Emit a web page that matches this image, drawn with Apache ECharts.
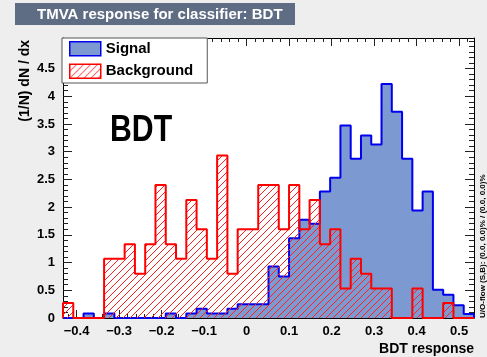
<!DOCTYPE html>
<html><head><meta charset="utf-8">
<script src="https://cdn.jsdelivr.net/npm/echarts@6/dist/echarts.min.js"></script>
<style>html,body{margin:0;padding:0;background:#eeeeee}#c{width:487px;height:357px}</style>
</head><body><div id="c"></div>
<script>
// ---- data ----
const xMin = -0.432, xMax = 0.535;
const yMin = 0, yMax = 5.05;
const seriesNames = ['Signal', 'Background'];
const signal = [0, 0, 0.083, 0, 0.083, 0, 0, 0, 0, 0,
  0.083, 0, 0.083, 0.167, 0.083, 0.083, 0.167, 0.25, 0.25, 0.25,
  0.93, 0.75, 1.44, 1.77, 1.70, 2.28, 2.53, 3.47, 2.87, 3.29,
  3.13, 4.22, 3.72, 2.87, 1.94, 2.28, 0.51, 0.42, 0.23, 0.07];
const background = [0.27, 0, 0, 0, 1.07, 1.07, 1.33, 0.8, 1.33, 2.4,
  1.33, 1.07, 2.13, 1.6, 1.07, 2.93, 0.8, 1.6, 1.6, 2.4,
  2.4, 1.6, 2.4, 1.6, 2.13, 1.33, 1.6, 0.53, 1.07, 0.8,
  0.53, 0.53, 0, 0, 0.53, 0, 0, 0.27, 0, 0];
const xTickLabels = [-0.4, -0.3, -0.2, -0.1, 0, 0.1, 0.2, 0.3, 0.4, 0.5];
const yTickLabels = [0, 0.5, 1, 1.5, 2, 2.5, 3, 3.5, 4, 4.5];
const titleText = 'TMVA response for classifier: BDT';
const xName = 'BDT response';
const yName = '(1/N) dN / dx';
const overflowText = 'U/O-flow (S,B): (0.0, 0.0)% / (0.0, 0.0)%';
const methodText = 'BDT';

// ---- helpers ----
const nBins = signal.length;
const bw = (xMax - xMin) / nBins;
function stepData(vals) {
  const d = [[xMin, 0]];
  vals.forEach((v, i) => d.push([xMin + i * bw, v]));
  d.push([xMax, 0]);
  return d;
}
const xMinor = [];
for (let k = -21; k <= 26; k++) xMinor.push(Math.round(k * 2) / 100);
const yMinor = [];
for (let k = 0; k <= 50; k++) yMinor.push(k / 10);

function hatchCanvas() {
  const c = document.createElement('canvas');
  c.width = 7; c.height = 7;
  const g = c.getContext('2d');
  g.strokeStyle = '#ff2020';
  g.lineWidth = 1;
  g.beginPath();
  g.moveTo(-1, 8); g.lineTo(8, -1);
  g.moveTo(-1, 1); g.lineTo(1, -1);
  g.moveTo(6, 8); g.lineTo(8, 6);
  g.stroke();
  return c;
}
const hatch = hatchCanvas();

const FONT = '"Liberation Sans", Arial, Helvetica, sans-serif';
const fmt = v => {
  const s = String(+(+v).toFixed(1));
  return s === '-0' ? '0' : s.replace('-', '\u2212');
};

function xAx(pos, ticks, len, labels, line) {
  return {
    type: 'value', position: pos, min: xMin, max: xMax,
    axisLine: { show: line, onZero: false, lineStyle: { color: '#000', width: 1 } },
    axisTick: { show: true, inside: true, length: len, customValues: ticks, lineStyle: { color: '#222', width: 1 } },
    axisLabel: labels ? { show: true, customValues: xTickLabels, formatter: fmt, margin: 7,
      color: '#000', fontWeight: 'bold', fontSize: 13, fontFamily: FONT } : { show: false },
    splitLine: { show: false }
  };
}
function yAx(pos, ticks, len, labels, line) {
  return {
    type: 'value', position: pos, min: yMin, max: yMax,
    axisLine: { show: line, onZero: false, lineStyle: { color: '#000', width: 1 } },
    axisTick: { show: true, inside: true, length: len, customValues: ticks, lineStyle: { color: '#222', width: 1 } },
    axisLabel: labels ? { show: true, customValues: yTickLabels, formatter: fmt, margin: 8,
      color: '#000', fontWeight: 'bold', fontSize: 13, fontFamily: FONT } : { show: false },
    splitLine: { show: false }
  };
}

const chart = echarts.init(document.getElementById('c'), null, { renderer: 'canvas' });
chart.setOption({
  animation: false,
  backgroundColor: '#eeeeee',
  grid: { left: 63, right: 13, top: 38, bottom: 39, show: true, backgroundColor: '#ffffff', borderWidth: 0 },
  xAxis: [
    xAx('bottom', xTickLabels, 8, true, true),
    xAx('bottom', xMinor, 4, false, false),
    xAx('top', xTickLabels, 8, false, true),
    xAx('top', xMinor, 4, false, false)
  ],
  yAxis: [
    yAx('left', yTickLabels, 9, true, true),
    yAx('left', yMinor, 5, false, false),
    yAx('right', yTickLabels, 9, false, true),
    yAx('right', yMinor, 5, false, false)
  ],
  legend: {
    left: 62, top: 38, orient: 'vertical', selectedMode: false,
    backgroundColor: '#ffffff', borderColor: '#555', borderWidth: 1,
    padding: [3, 14, 4, 7], itemGap: 7, itemWidth: 31, itemHeight: 14,
    textStyle: { fontFamily: FONT, fontWeight: 'bold', fontSize: 15, color: '#000' },
    data: [
      { name: seriesNames[0], icon: 'rect', itemStyle: { color: '#7d99d1', borderColor: '#0000ee', borderWidth: 1.5 } },
      { name: seriesNames[1], icon: 'rect', itemStyle: { color: { image: hatch, repeat: 'repeat' }, borderColor: '#ff0000', borderWidth: 1.5 } }
    ]
  },
  series: [
    {
      type: 'line', name: seriesNames[0], data: stepData(signal), step: 'end', symbol: 'none',
      xAxisIndex: 0, yAxisIndex: 0, z: 2,
      lineStyle: { color: '#0000ee', width: 2 }, itemStyle: { color: '#0000ee' },
      areaStyle: { color: '#7d99d1', opacity: 1 }
    },
    {
      type: 'line', name: seriesNames[1], data: stepData(background), step: 'end', symbol: 'none',
      xAxisIndex: 0, yAxisIndex: 0, z: 3,
      lineStyle: { color: '#ff0000', width: 2 }, itemStyle: { color: '#ff0000' },
      areaStyle: { color: { image: hatch, repeat: 'repeat' }, opacity: 1 }
    }
  ],
  graphic: [
    { type: 'rect', silent: true, shape: { x: 15, y: 3, width: 280, height: 22 }, style: { fill: '#5e6c84' } },
    { type: 'text', silent: true, x: 37, y: 14.5, style: { text: titleText, fill: '#ffffff', align: 'left', verticalAlign: 'middle', font: 'bold 15px ' + FONT } },
    { type: 'text', silent: true, x: 110, y: 131, scaleX: 0.84, z: 10, style: { text: methodText, fill: '#000', align: 'left', verticalAlign: 'middle', font: 'bold 36px ' + FONT } },
    { type: 'text', silent: true, x: 474, y: 349, style: { text: xName, fill: '#000', align: 'right', verticalAlign: 'middle', font: 'bold 14px ' + FONT } },
    { type: 'text', silent: true, x: 25, y: 40, rotation: Math.PI / 2, style: { text: yName, fill: '#000', align: 'right', verticalAlign: 'middle', font: 'bold 14px ' + FONT } },
    { type: 'text', silent: true, x: 483, y: 318, rotation: Math.PI / 2, style: { text: overflowText, fill: '#000', align: 'left', verticalAlign: 'middle', font: 'bold 8px ' + FONT } }
  ]
});
</script></body></html>
